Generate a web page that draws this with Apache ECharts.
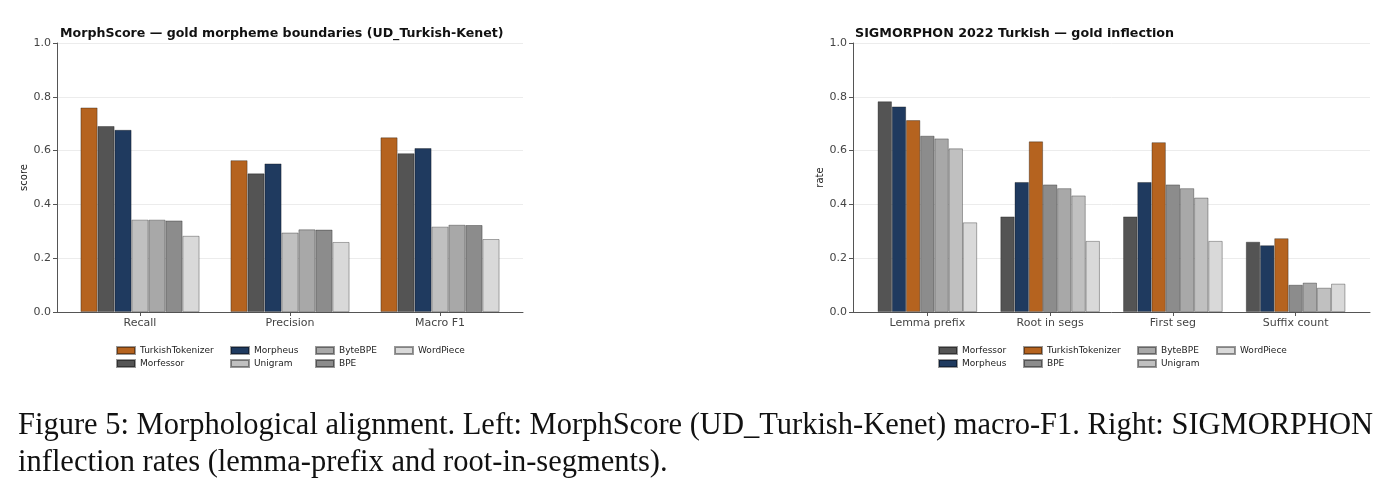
<!DOCTYPE html>
<html>
<head>
<meta charset="utf-8">
<script src="https://cdn.jsdelivr.net/npm/echarts@6/dist/echarts.min.js"></script>
<style>
  html, body { margin: 0; padding: 0; background: #fff; }
  #chart { width: 1394px; height: 492px; }
</style>
</head>
<body>
<div id="chart"></div>
<script>
// left panel: MorphScore
var leftCats = ['Recall', 'Precision', 'Macro F1'];
var leftNames = ['TurkishTokenizer', 'Morfessor', 'Morpheus', 'Unigram', 'ByteBPE', 'BPE', 'WordPiece'];
var leftTurkishTokenizer = [0.760, 0.564, 0.649];
var leftMorfessor = [0.691, 0.515, 0.590];
var leftMorpheus = [0.677, 0.552, 0.609];
var leftUnigram = [0.343, 0.295, 0.317];
var leftByteBPE = [0.343, 0.307, 0.324];
var leftBPE = [0.340, 0.306, 0.323];
var leftWordPiece = [0.283, 0.260, 0.271];

// right panel: SIGMORPHON
var rightCats = ['Lemma prefix', 'Root in segs', 'First seg', 'Suffix count'];
var rightNames = ['Morfessor', 'Morpheus', 'TurkishTokenizer', 'BPE', 'ByteBPE', 'Unigram', 'WordPiece'];
var rightMorfessor = [0.783, 0.355, 0.355, 0.261];
var rightMorpheus = [0.764, 0.483, 0.483, 0.248];
var rightTurkishTokenizer = [0.713, 0.634, 0.631, 0.274];
var rightBPE = [0.655, 0.474, 0.474, 0.101];
var rightByteBPE = [0.645, 0.460, 0.460, 0.109];
var rightUnigram = [0.608, 0.433, 0.425, 0.090];
var rightWordPiece = [0.333, 0.264, 0.264, 0.105];

var colors = {
    TurkishTokenizer: '#b5631f',
    Morfessor: '#545454',
    Morpheus: '#1f3a5f',
    Unigram: '#c0c0c0',
    ByteBPE: '#a8a8a8',
    BPE: '#8c8c8c',
    WordPiece: '#d9d9d9'
};

var leftData = {
    TurkishTokenizer: leftTurkishTokenizer, Morfessor: leftMorfessor, Morpheus: leftMorpheus,
    Unigram: leftUnigram, ByteBPE: leftByteBPE, BPE: leftBPE, WordPiece: leftWordPiece
};
var rightData = {
    Morfessor: rightMorfessor, Morpheus: rightMorpheus, TurkishTokenizer: rightTurkishTokenizer,
    BPE: rightBPE, ByteBPE: rightByteBPE, Unigram: rightUnigram, WordPiece: rightWordPiece
};

var font = 'DejaVu Sans';

// frame axes: spines + gridlines over the full axes box
function frameX(idx) {
    return {
        type: 'value', gridIndex: idx, min: 0, max: 1,
        axisLine: { show: true, onZero: false, lineStyle: { color: '#555', width: 1 } },
        axisTick: { show: false }, axisLabel: { show: false }, splitLine: { show: false }
    };
}

function frameY(name, idx) {
    return {
        type: 'value', gridIndex: idx, min: 0, max: 1, interval: 0.2,
        name: name, nameLocation: 'middle', nameGap: 24,
        nameTextStyle: { color: '#222', fontFamily: font, fontSize: 10 },
        axisLine: { show: true, lineStyle: { color: '#555', width: 1 } },
        axisTick: { show: true, length: 4, lineStyle: { color: '#555' } },
        axisLabel: {
            color: '#444', fontFamily: font, fontSize: 11, margin: 6,
            formatter: function (v) { return v.toFixed(1); }
        },
        splitLine: { show: true, lineStyle: { color: '#ececec', width: 1 } }
    };
}

// data axes: categories with a little margin inside the frame
function dataX(cats, idx) {
    return {
        type: 'category', gridIndex: idx, data: cats,
        axisLine: { show: false },
        axisTick: { show: true, alignWithLabel: true, length: 4, lineStyle: { color: '#555' } },
        axisLabel: { color: '#444', fontFamily: font, fontSize: 11, margin: 6 }
    };
}

function dataY(idx) {
    return { type: 'value', gridIndex: idx, min: 0, max: 1, show: false, splitLine: { show: false } };
}

function seriesFor(names, data, idx, gap) {
    return names.map(function (n) {
        return {
            name: n, type: 'bar', xAxisIndex: idx, yAxisIndex: idx,
            data: data[n], barGap: '0%', barCategoryGap: gap,
            itemStyle: { color: colors[n], borderColor: 'rgba(0,0,0,0.4)', borderWidth: 0.8 },
            emphasis: { disabled: true }
        };
    });
}

function legendCol(items, left, top) {
    return {
        orient: 'vertical', left: left, top: top, padding: 0,
        icon: 'rect', itemWidth: 18, itemHeight: 7, itemGap: 4,
        data: items,
        textStyle: { color: '#222', fontFamily: font, fontSize: 9, lineHeight: 9 },
        selectedMode: false
    };
}

var series = seriesFor(leftNames, leftData, 1, '20.7%').concat(seriesFor(rightNames, rightData, 3, '19%'));

var option = {
    animation: false,
    backgroundColor: '#fff',
    title: [
        { text: 'MorphScore \u2014 gold morpheme boundaries (UD_Turkish-Kenet)', left: 60, top: 27, padding: 0,
          textStyle: { fontFamily: font, fontWeight: 'bold', fontSize: 12.6, color: '#111' } },
        { text: 'SIGMORPHON 2022 Turkish \u2014 gold inflection', left: 855, top: 27, padding: 0,
          textStyle: { fontFamily: font, fontWeight: 'bold', fontSize: 12.7, color: '#111' } }
    ],
    grid: [
        { left: 57, right: 871, top: 43, bottom: 180 },
        { left: 65, right: 879, top: 43, bottom: 180 },
        { left: 853, right: 24, top: 43, bottom: 180 },
        { left: 866, right: 37, top: 43, bottom: 180 }
    ],
    xAxis: [frameX(0), dataX(leftCats, 1), frameX(2), dataX(rightCats, 3)],
    yAxis: [frameY('score', 0), dataY(1), frameY('rate', 2), dataY(3)],
    legend: [
        legendCol(['TurkishTokenizer', 'Morfessor'], 116, 346),
        legendCol(['Morpheus', 'Unigram'], 230, 346),
        legendCol(['ByteBPE', 'BPE'], 315, 346),
        legendCol(['WordPiece'], 394, 346),
        legendCol(['Morfessor', 'Morpheus'], 938, 346),
        legendCol(['TurkishTokenizer', 'BPE'], 1023, 346),
        legendCol(['ByteBPE', 'Unigram'], 1137, 346),
        legendCol(['WordPiece'], 1216, 346)
    ],
    graphic: [
        { type: 'text', left: 18, top: 410,
          style: { text: 'Figure 5: Morphological alignment. Left: MorphScore (UD_Turkish-Kenet) macro-F1. Right: SIGMORPHON',
                   font: '30.5px "Liberation Serif"', fill: '#111' } },
        { type: 'text', left: 18, top: 447,
          style: { text: 'inflection rates (lemma-prefix and root-in-segments).',
                   font: '30.5px "Liberation Serif"', fill: '#111' } }
    ],
    series: series
};

var myChart = echarts.init(document.getElementById('chart'));
myChart.setOption(option);
</script>
</body>
</html>
